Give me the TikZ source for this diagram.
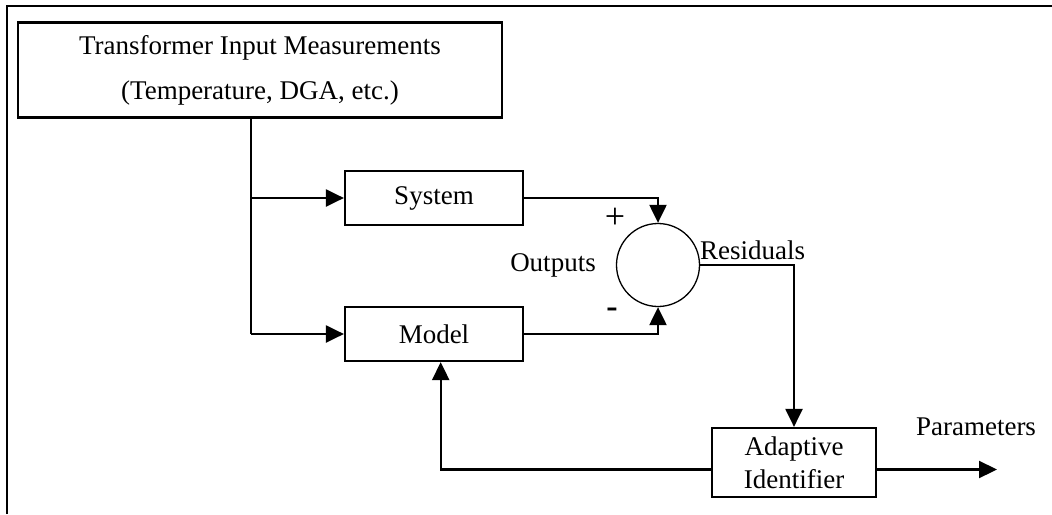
\documentclass[tikz,border=0pt]{standalone}
\usepackage{fontspec}
\setmainfont{Liberation Serif}
\usetikzlibrary{arrows.meta}
\begin{document}
\begin{tikzpicture}[x=1pt,y=-1pt,
  blk/.style={draw,line width=2.2pt,inner sep=0pt,align=center,
    font=\fontsize{27}{33}\selectfont},
  wire/.style={line width=2.2pt},
  flow/.style={wire,-{Triangle[length=18pt,width=17pt]}},
  lbl/.style={inner sep=0pt,font=\fontsize{27}{30}\selectfont}]
\useasboundingbox (0,0) rectangle (1052,514);
% frame on the left and top edges
\draw[line width=2.5pt] (7,514) -- (7,6) -- (1052,6);

% blocks
\node[blk,minimum width=484pt,minimum height=95pt,
  font=\fontsize{27}{45}\selectfont] (input) at (260,70)
  {Transformer Input Measurements\\(Temperature, DGA, etc.)};
\node[blk,minimum width=178pt,minimum height=54pt] (sys) at (434,198) {System};
\node[blk,minimum width=178pt,minimum height=54pt] (model) at (434,334) {Model};
\node[draw,circle,line width=1.3pt,minimum size=83pt,inner sep=0pt] (sum) at (658,265) {};
\node[blk,minimum width=164pt,minimum height=69pt] (adapt) at (794,462.5)
  {Adaptive\\Identifier};

% labels
\node[lbl,font=\fontsize{36}{36}\selectfont] (plus) at (615,218) {+};
\node[lbl,font=\fontsize{34}{34}\selectfont\bfseries] (minus) at (612,313) {-};
\node[lbl] (outputs) at (553,265) {Outputs};
\node[lbl,anchor=west] (resid) at (700,250) {Residuals};
\node[lbl] (params) at (976,427) {Parameters};

% connectors
\path (input.south) ++(-9.3pt,0) coordinate (tap);
\draw[wire] (tap) -- (tap |- model.west);
\draw[flow] (tap |- sys.west) -- (sys.west);
\draw[flow] (tap |- model.west) -- (model.west);
\draw[flow] (sys.east) -| (sum.north);
\draw[flow] (model.east) -| (sum.south);
\draw[flow] (sum.east) -| (adapt.north);
\draw[flow] ([yshift=-7pt]adapt.west) -| ([xshift=6.7pt]model.south);
\coordinate (out) at (997,469.5);
\draw[flow] ([yshift=-7pt]adapt.east) -- (out);
\end{tikzpicture}
\end{document}
